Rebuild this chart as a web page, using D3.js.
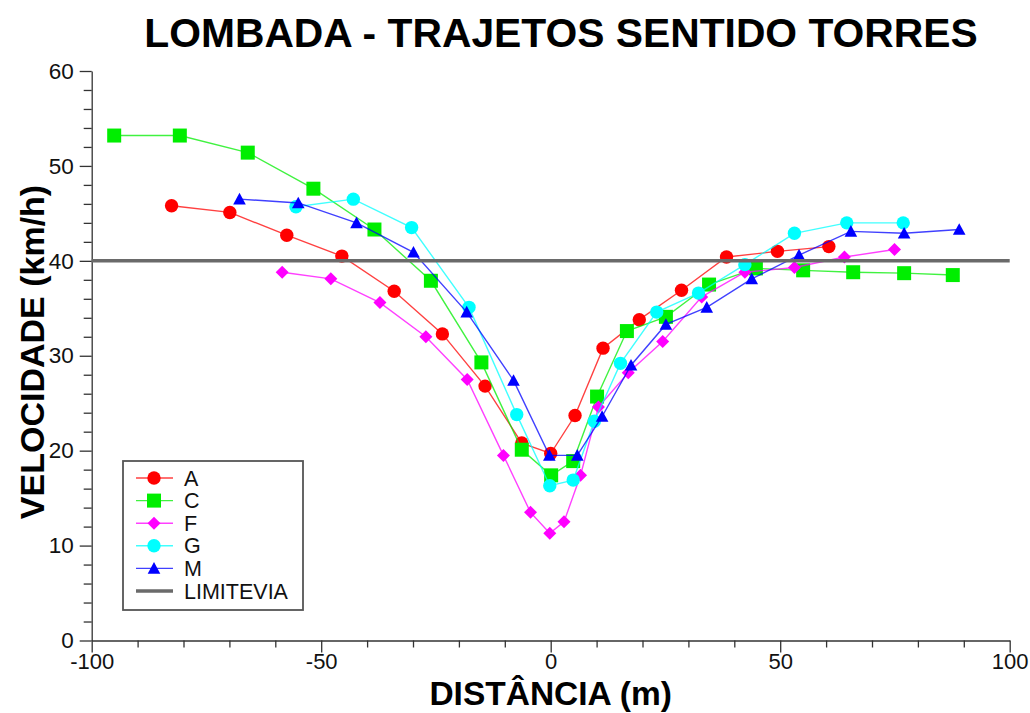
<!DOCTYPE html>
<html>
<head>
<meta charset="utf-8">
<script src="https://cdn.jsdelivr.net/npm/d3@7"></script>
<style>
  html, body { margin: 0; padding: 0; background: #fff; }
  text { font-family: "Liberation Sans", Arial, sans-serif; }
</style>
</head>
<body>
<div id="chart"></div>
<script>
// series data (distance in m, speed in km/h)
const A_x = [-82.6, -69.9, -57.5, -45.5, -34.1, -23.6, -14.3, -6.3, 0, 5.3, 11.4, 19.3, 28.5, 38.3, 49.4, 60.6];
const A_y = [45.8, 45.1, 42.7, 40.5, 36.8, 32.3, 26.8, 20.8, 19.7, 23.7, 30.8, 33.8, 36.9, 40.4, 41.0, 41.5];

const C_x = [-95.1, -80.8, -66.0, -51.7, -38.4, -26.1, -15.1, -6.3, 0.1, 4.9, 10.1, 16.6, 25.1, 34.5, 44.7, 55.0, 65.9, 77.0, 87.6];
const C_y = [53.2, 53.2, 51.4, 47.6, 43.3, 37.9, 29.3, 20.1, 17.4, 18.9, 25.7, 32.6, 34.1, 37.5, 39.2, 39.0, 38.8, 38.7, 38.5];

const F_x = [-58.5, -47.9, -37.2, -27.2, -18.2, -10.3, -4.4, -0.2, 2.9, 6.5, 10.4, 16.9, 24.4, 32.9, 42.3, 53.1, 64.0, 74.9];
const F_y = [38.8, 38.1, 35.6, 32.0, 27.5, 19.5, 13.5, 11.3, 12.5, 17.4, 24.6, 28.2, 31.5, 36.2, 38.8, 39.3, 40.4, 41.2];

const G_x = [-55.5, -43.0, -30.3, -17.8, -7.4, -0.2, 4.9, 9.5, 15.2, 23.1, 32.2, 42.3, 53.1, 64.5, 76.8];
const G_y = [45.7, 46.5, 43.5, 35.1, 23.8, 16.3, 16.9, 23.1, 29.2, 34.6, 36.6, 39.6, 42.9, 44.0, 44.0];

const M_x = [-67.8, -55.0, -42.3, -29.9, -18.3, -8.1, -0.3, 5.8, 11.2, 17.5, 25.1, 34.0, 43.8, 54.1, 65.4, 77.0, 89.0];
const M_y = [46.5, 46.1, 44.0, 40.9, 34.6, 27.4, 19.5, 19.5, 23.6, 29.0, 33.3, 35.1, 38.1, 40.6, 43.1, 42.9, 43.3];

const speedLimit = 40;

const xTicks = [-100, -50, 0, 50, 100];
const yTicks = [0, 10, 20, 30, 40, 50, 60];

const seriesNames = ["A", "C", "F", "G", "M"];
const seriesX = [A_x, C_x, F_x, G_x, M_x];
const seriesY = [A_y, C_y, F_y, G_y, M_y];
const seriesColor = ["#ff0000", "#00ee00", "#ff00ff", "#00ffff", "#0000ff"];
const seriesShape = ["circle", "square", "diamond", "circle", "triangle"];

const width = 1030;
const height = 713;
const margin = { top: 71, right: 20.3, bottom: 72.5, left: 91.7 };

const svg = d3.select("#chart")
  .append("svg")
  .attr("width", width)
  .attr("height", height);

const x = d3.scaleLinear().domain([-100, 100]).range([margin.left, width - margin.right]);
const y = d3.scaleLinear().domain([0, 60]).range([height - margin.bottom, margin.top]);

// marker drawing
const markerPath = (shape) => {
  if (shape === "square") return "M-7,-7H7V7H-7Z";
  if (shape === "diamond") return "M0,-6.5L6.5,0L0,6.5L-6.5,0Z";
  if (shape === "triangle") return "M0,-6.3L6.3,5.3L-6.3,5.3Z";
  return null;
};
const drawMarker = (g, shape, color, cx, cy) => {
  if (shape === "circle") {
    g.append("circle").attr("cx", cx).attr("cy", cy).attr("r", 6.7).attr("fill", color);
  } else {
    g.append("path")
      .attr("d", markerPath(shape))
      .attr("transform", `translate(${cx},${cy})`)
      .attr("fill", color);
  }
};

// axes
const axisColor = "#333";
const yMinor = d3.range(0, 61, 2).filter((v) => v % 10 !== 0);
const xMinor = d3.range(-100, 101, 10).filter((v) => v % 50 !== 0);
const plain = (d) => String(d); // hyphen minus, like the original

svg.append("g")
  .attr("transform", `translate(${margin.left},0)`)
  .call(d3.axisLeft(y).tickValues(yMinor).tickSize(8).tickFormat(""))
  .call((g) => g.select(".domain").remove());

const yAxis = svg.append("g")
  .attr("transform", `translate(${margin.left},0)`)
  .call(d3.axisLeft(y).tickValues(yTicks).tickFormat(plain).tickSize(12).tickSizeOuter(0).tickPadding(6));

svg.append("g")
  .attr("transform", `translate(0,${height - margin.bottom})`)
  .call(d3.axisBottom(x).tickValues(xMinor).tickSize(7).tickFormat(""))
  .call((g) => g.select(".domain").remove());

const xAxis = svg.append("g")
  .attr("transform", `translate(0,${height - margin.bottom})`)
  .call(d3.axisBottom(x).tickValues(xTicks).tickFormat(plain).tickSize(12).tickSizeOuter(0).tickPadding(1));

svg.selectAll(".tick line, .domain").attr("stroke", axisColor).attr("stroke-width", 1.3);
yAxis.selectAll(".tick text").attr("font-size", 22.5).attr("fill", "#111");
xAxis.selectAll(".tick text").attr("font-size", 22).attr("fill", "#111");

// series lines and markers
const line = d3.line().x((d) => x(d[0])).y((d) => y(d[1]));

seriesNames.forEach((name, i) => {
  const pts = seriesX[i].map((v, j) => [v, seriesY[i][j]]);
  const g = svg.append("g");
  g.append("path")
    .datum(pts)
    .attr("d", line)
    .attr("fill", "none")
    .attr("stroke", seriesColor[i])
    .attr("stroke-opacity", 0.75)
    .attr("stroke-width", 1.4);
  pts.forEach((p) => drawMarker(g, seriesShape[i], seriesColor[i], x(p[0]), y(p[1])));
});

// speed limit line
svg.append("line")
  .attr("x1", x(-100))
  .attr("x2", x(100))
  .attr("y1", y(speedLimit))
  .attr("y2", y(speedLimit))
  .attr("stroke", "#6a6a6a")
  .attr("stroke-width", 3.5);

// titles
svg.append("text")
  .attr("x", 561)
  .attr("y", 47)
  .attr("text-anchor", "middle")
  .attr("font-size", 40.8)
  .attr("font-weight", "bold")
  .attr("fill", "#000")
  .text("LOMBADA - TRAJETOS SENTIDO TORRES");

svg.append("text")
  .attr("x", x(0))
  .attr("y", 705)
  .attr("text-anchor", "middle")
  .attr("font-size", 33.5)
  .attr("font-weight", "bold")
  .attr("fill", "#000")
  .text("DISTÂNCIA (m)");

svg.append("text")
  .attr("transform", `translate(44,${352}) rotate(-90)`)
  .attr("text-anchor", "middle")
  .attr("font-size", 34)
  .attr("font-weight", "bold")
  .attr("fill", "#000")
  .text("VELOCIDADE (km/h)");

// legend
const legend = svg.append("g").attr("transform", "translate(123,461)");
legend.append("rect")
  .attr("width", 180)
  .attr("height", 149)
  .attr("fill", "#fff")
  .attr("stroke", "#555")
  .attr("stroke-width", 1.8);

const rowY = (k) => 17 + k * 22.6;
seriesNames.forEach((name, i) => {
  const ry = rowY(i);
  legend.append("line")
    .attr("x1", 13).attr("x2", 50).attr("y1", ry).attr("y2", ry)
    .attr("stroke", seriesColor[i]).attr("stroke-opacity", 0.75).attr("stroke-width", 1.4);
  drawMarker(legend, seriesShape[i], seriesColor[i], 31, ry);
  legend.append("text")
    .attr("x", 61).attr("y", ry + 7.5)
    .attr("font-size", 21.5).attr("fill", "#111")
    .text(name);
});
legend.append("line")
  .attr("x1", 13).attr("x2", 50).attr("y1", rowY(5)).attr("y2", rowY(5))
  .attr("stroke", "#6a6a6a").attr("stroke-width", 3.5);
legend.append("text")
  .attr("x", 61).attr("y", rowY(5) + 7.5)
  .attr("font-size", 21.5).attr("fill", "#111")
  .text("LIMITEVIA");
</script>
</body>
</html>
